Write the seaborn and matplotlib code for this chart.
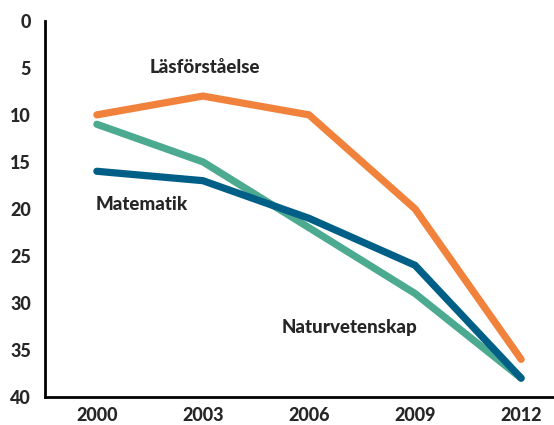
import matplotlib
matplotlib.use("Agg")
import pandas as pd
import matplotlib.pyplot as plt
import seaborn as sns

years = ["2000", "2003", "2006", "2009", "2012"]
las = [10, 8, 10, 20, 36]
natur = [11, 15, 22, 29, 38]
matte = [16, 17, 21, 26, 38]
subjects = ["Läsförståelse", "Naturvetenskap", "Matematik"]
colors = ["#F0823C", "#4BAA8F", "#005F87"]

df = pd.DataFrame({
    "year": years * 3,
    "rank": las + natur + matte,
    "subject": [subjects[0]] * 5 + [subjects[1]] * 5 + [subjects[2]] * 5,
})

sns.set_style("white")
plt.rcParams["font.family"] = ["Lato", "DejaVu Sans"]

fig = plt.figure(figsize=(5.54, 4.25), dpi=100)
ax = fig.add_axes([0.081, 0.066, 0.919, 0.885])

sns.lineplot(data=df, x="year", y="rank", hue="subject", hue_order=subjects,
             palette=colors, linewidth=5.2, legend=False, ax=ax,
             solid_capstyle="round", solid_joinstyle="miter")

ax.set_ylim(40, 0)
ax.set_xlim(-0.49, 4.31)
ax.set_yticks(range(0, 41, 5))
ax.set_xlabel("")
ax.set_ylabel("")
ax.tick_params(length=0, labelsize=13)
ax.tick_params(axis="y", pad=10)
ax.tick_params(axis="x", pad=7)
for lab in ax.get_xticklabels() + ax.get_yticklabels():
    lab.set_fontweight("black")

for s in ["top", "right"]:
    ax.spines[s].set_visible(False)
for s in ["left", "bottom"]:
    ax.spines[s].set_color("black")
    ax.spines[s].set_linewidth(2)

ax.text(1.02, 5.0, "Läsförståelse", ha="center", va="center", fontsize=13.5, fontweight="black")
ax.text(0.42, 19.5, "Matematik", ha="center", va="center", fontsize=13.5, fontweight="black")
ax.text(2.38, 32.6, "Naturvetenskap", ha="center", va="center", fontsize=13.5, fontweight="black")

fig.savefig("out.png", dpi=100)
